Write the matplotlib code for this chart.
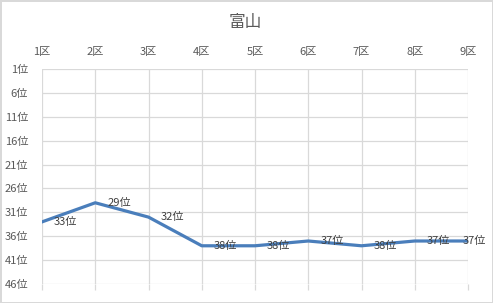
import matplotlib
matplotlib.use("Agg")
import matplotlib.pyplot as plt

plt.rcParams['font.family'] = ['Noto Sans CJK JP', 'DejaVu Sans']

# data
districts = ['1区', '2区', '3区', '4区', '5区', '6区', '7区', '8区', '9区']
ranks = [33, 29, 32, 38, 38, 37, 38, 37, 37]
ytick_vals = [1, 6, 11, 16, 21, 26, 31, 36, 41, 46]
title = '富山'

fig = plt.figure(figsize=(4.93, 3.03), dpi=100)
fig.patch.set_edgecolor('#d9d9d9')
fig.patch.set_linewidth(1.0)

ax = fig.add_axes([42 / 493, 1 - 284 / 303, (468 - 42) / 493, (284 - 69) / 303])
x = list(range(1, len(districts) + 1))
ax.plot(x, ranks, color='#4a7ebb', linewidth=2.3, solid_joinstyle='round', zorder=3)

ax.set_xlim(1, len(districts))
ax.set_ylim(46, 1)
ax.set_xticks(x)
ax.set_xticklabels(districts)
ax.set_yticks(ytick_vals)
ax.set_yticklabels([f'{v}位' for v in ytick_vals])

ax.grid(True, color='#d9d9d9', linewidth=0.9)
for s in ax.spines.values():
    s.set_visible(False)

# labels on top, tick marks at bottom
ax.tick_params(axis='x', which='both', top=False, labeltop=True, bottom=True,
               labelbottom=False, length=4, color='#d9d9d9', width=0.9,
               labelsize=8, labelcolor='#595959', pad=5)
ax.tick_params(axis='y', length=0, labelsize=8, labelcolor='#595959', pad=10)

# data labels
for i, (xi, r) in enumerate(zip(x, ranks)):
    dx = 12 if i < len(x) - 1 else -5
    ax.annotate(f'{r}位', (xi, r), xytext=(dx * 0.72, 0), textcoords='offset points',
                ha='left', va='center', fontsize=8, color='#404040', zorder=4,
                annotation_clip=False)

fig.text(245 / 493, 1 - 22 / 303, title, ha='center', va='center', fontsize=12,
         color='#595959')

fig.savefig('out.png', dpi=100)
